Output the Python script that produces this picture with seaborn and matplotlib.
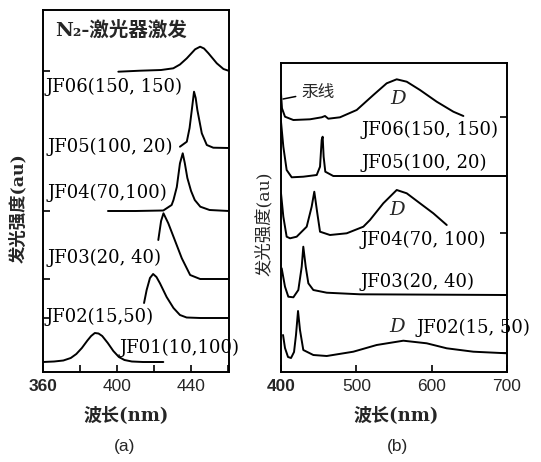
import numpy as np
import matplotlib
matplotlib.use("Agg")
import matplotlib.pyplot as plt
import seaborn as sns

sns.set_theme(style="ticks")
plt.rcParams['font.family'] = ['DejaVu Serif', 'Noto Sans CJK SC']

# ---- panel (a): N2 laser excitation, wavelength (nm) vs relative intensity ----
a_names = ["JF01(10,100)", "JF02(15,50)", "JF03(20, 40)",
           "JF04(70,100)", "JF05(100, 20)", "JF06(150, 150)"]
a_offsets = [10, 54, 93, 161, 224, 301]

a_wl = [
    [360, 366, 371, 375, 378, 381, 384, 386, 388, 390, 392, 395, 398, 401, 404, 408, 414, 425],
    [414.6, 416.0, 417.8, 419.5, 421.3, 423.2, 426.8, 430.5, 434.0, 437.6, 445, 460.5],
    [422.3, 423.8, 425.1, 427.7, 430.5, 435.0, 439.5, 444.9, 460.5],
    [395.1, 410, 425, 429.5, 430.5, 432.3, 434.0, 435.5, 436.6, 438, 440, 442, 445, 450, 460.5],
    [434.0, 437.7, 439.2, 440.4, 441.6, 442.5, 443.4, 445.8, 448.5, 452, 460.5],
    [400.7, 412.4, 423.8, 430.4, 434, 437.7, 442.2, 444.9, 447, 449.4, 453.9, 457.5, 460.2],
]
a_int = [
    [0, 0.5, 1.5, 4, 8, 14, 21.5, 26, 29, 28.5, 26, 19, 11, 5, 2, 0.5, 0, 0],
    [15, 28, 40, 44, 41, 34.7, 21, 10, 3, 0.5, 0, 0],
    [39, 58, 65.7, 55.7, 42.3, 20.7, 4, 0, 0],
    [0, 0, 0.5, 6, 11, 24, 47.7, 57.7, 48, 33, 20, 11, 4.3, 1, 0],
    [1.3, 6.3, 20, 38, 56.3, 50, 38, 14.7, 3, 0.3, 0],
    [-0.7, 0.3, 1, 2.7, 6.5, 12.7, 21.7, 24.3, 22.5, 17.7, 7.7, 2, 0.3],
]
# label anchor (left edge wavelength, height)
a_label_x = [401.6, 361.1, 362.7, 362.2, 362.2, 361.1]
a_label_y = [24, 55, 114, 179, 225, 285]

# ---- panel (b): wavelength (nm) vs relative intensity ----
b_names = ["JF02(15, 50)", "JF03(20, 40)", "JF04(70, 100)",
           "JF05(100, 20)", "JF06(150, 150)"]
b_offsets = [15, 77, 135, 196, 252]

b_wl = [
    [402.7, 405.3, 409.3, 413.3, 417.3, 419.9, 422.6, 425.2, 429.6, 442.9, 460.7, 496, 527,
     562.4, 593.4, 620, 655.3, 700],
    [400.9, 405.3, 409.7, 416.4, 423, 427.5, 429.6, 432.8, 436.3, 442.9, 460.7, 504.9, 700],
    [400, 403.1, 407.5, 412, 420.8, 434.1, 440.7, 444.2, 448.2, 451.8, 465, 487.2, 509.3,
     518.1, 535.8, 553.6, 566.9, 584.5, 602.2, 620],
    [400, 403.1, 407.5, 414.2, 429.6, 447.4, 451.8, 454, 455.3, 456.6, 458.8, 469.4, 700],
    [400, 401.3, 405.3, 416.4, 438.5, 454, 458.4, 462.8, 478.3, 500.5, 522.6, 540.3, 553.6,
     566.9, 584.5, 606.7, 628.8, 642.1],
]
b_int = [
    [22, 9, 0, -1, 5, 22, 46, 27, 7, 2, 1, 5.3, 12, 16.3, 13.7, 8.7, 5.3, 3.7],
    [26.7, 8.3, -1.7, -2.3, 5, 28.3, 48.3, 28.3, 11.7, 5, 2.3, 0.7, 0],
    [43.7, 20.3, 0.3, -1.3, 0.3, 10.3, 30.3, 45.3, 23.7, 5.3, 2, 3.7, 10.3, 17, 33.7, 47,
     43.7, 33.7, 23.7, 12],
    [54.3, 29.3, 6, -1.3, -0.7, 1, 9.3, 36, 39.3, 19.3, 4.3, 0, 0],
    [26.7, 11.7, 3.3, 0, 0.7, 2.7, 4, 1.3, 2.7, 10, 25, 36.7, 40.7, 38.3, 30, 18.3, 8.3, 4],
]
b_label_x = [580.5, 505, 505, 507.5, 507.5]
b_label_y = [44, 90, 132, 209, 242]
b_d_x = [554, 554, 555]
b_d_y = [45, 162, 273]

fig = plt.figure(figsize=(5.41, 4.62), dpi=100)
ax_a = fig.add_axes([43 / 541, 1 - 372 / 462, 186 / 541, 362 / 462])
ax_b = fig.add_axes([281 / 541, 1 - 372 / 462, 226 / 541, 309 / 462])

lab_font = dict(family=['DejaVu Serif'], fontsize=13, color='black')

for wl, inten, off in zip(a_wl, a_int, a_offsets):
    sns.lineplot(x=wl, y=np.array(inten) + off, ax=ax_a, color='black',
                 lw=1.4, sort=False, estimator=None)
for name, x, y in zip(a_names, a_label_x, a_label_y):
    ax_a.text(x, y, name, ha='left', va='center', clip_on=False, **lab_font)
ax_a.text(366.5, 342, "N₂-激光器激发", ha='left', va='center', fontsize=14,
          family=['DejaVu Serif', 'Noto Sans CJK SC'], fontweight='bold')

ax_a.set_xlim(360, 460.5)
ax_a.set_ylim(0, 362)
ax_a.set_xticks([360, 400, 440])
ax_a.set_xticks([380, 420, 460], minor=True)
ax_a.set_yticks([54, 93, 161, 301])
ax_a.set_yticklabels([])

for wl, inten, off in zip(b_wl, b_int, b_offsets):
    sns.lineplot(x=wl, y=np.array(inten) + off, ax=ax_b, color='black',
                 lw=1.4, sort=False, estimator=None)
for name, x, y in zip(b_names, b_label_x, b_label_y):
    ax_b.text(x, y, name, ha='left', va='center', clip_on=False, **lab_font)
for x, y in zip(b_d_x, b_d_y):
    ax_b.text(x, y, "D", ha='center', va='center', fontsize=14,
              family=['DejaVu Serif'], style='italic')
ax_b.annotate("汞线", xy=(402.7, 273), xytext=(427.5, 280), ha='left', va='center',
              fontsize=12, family=['Noto Sans CJK SC'],
              arrowprops=dict(arrowstyle='-', color='black', lw=1.1,
                              shrinkA=2, shrinkB=0))

ax_b.set_xlim(400, 700)
ax_b.set_ylim(0, 309)
ax_b.set_xticks([400, 500, 600, 700])
ax_b.set_yticks([19, 77, 139, 255])
ax_b.set_yticklabels([])
ax_b.yaxis.tick_right()

for ax in (ax_a, ax_b):
    for s in ax.spines.values():
        s.set_visible(True)
        s.set_linewidth(1.4)
        s.set_color('black')
    ax.tick_params(axis='both', which='both', direction='in', length=5,
                   width=1.2, color='black')
    ax.tick_params(axis='x', labelsize=12.5, pad=5)
    for i, t in enumerate(ax.get_xticklabels()):
        t.set_family(['Liberation Sans'])
        t.set_fontweight('bold' if i == 0 else 'normal')
    ax.set_xlabel("")
    ax.set_ylabel("")

fig.text(126 / 541, 1 - 415 / 462, "波长(nm)", ha='center', va='center', fontsize=13,
         family=['DejaVu Serif', 'Noto Sans CJK SC'], fontweight='bold')
fig.text(396 / 541, 1 - 415 / 462, "波长(nm)", ha='center', va='center', fontsize=13,
         family=['DejaVu Serif', 'Noto Sans CJK SC'], fontweight='bold')
fig.text(125 / 541, 1 - 446 / 462, "(a)", ha='center', va='center', fontsize=12.5,
         family=['Liberation Sans'])
fig.text(397 / 541, 1 - 446 / 462, "(b)", ha='center', va='center', fontsize=12.5,
         family=['Liberation Sans'])
fig.text(18 / 541, 1 - 208 / 462, "发光强度(au)", ha='center', va='center', rotation=90,
         fontsize=12.5, family=['DejaVu Serif', 'Noto Sans CJK SC'], fontweight='bold')
fig.text(264 / 541, 1 - 224 / 462, "发光强度(au)", ha='center', va='center', rotation=90,
         fontsize=12.5, family=['DejaVu Serif', 'Noto Sans CJK SC'])

fig.savefig("out.png", dpi=100, facecolor='white')
